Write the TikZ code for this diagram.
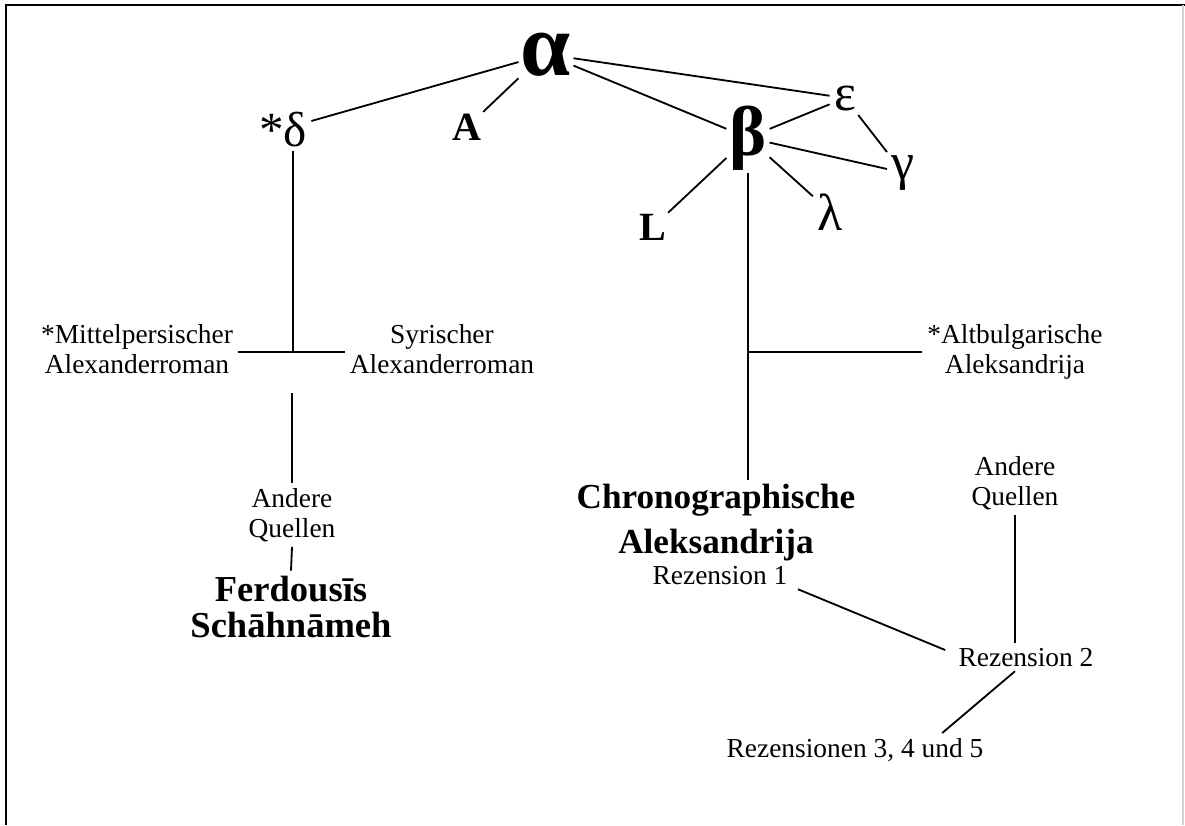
\documentclass[tikz,border=0pt]{standalone}
\usepackage{fontspec}
\setmainfont{Liberation Serif}
\tikzset{
  txt/.style={font=\fontsize{19.5}{21.5}\selectfont, align=center},
  title/.style={font=\fontsize{25}{32}\selectfont\bfseries, align=center},
  grk/.style={font=\fontsize{37}{40}\selectfont, inner sep=3pt},
  sigle/.style={font=\fontsize{28.5}{30}\selectfont\bfseries, inner sep=1pt},
  link/.style={line width=1.3pt},
}
\begin{document}
\begin{tikzpicture}[x=0.025cm,y=-0.025cm]
	\useasboundingbox (0,0) rectangle (1185,825);
	% frame
	\draw[line width=2pt] (6,825) -- (6,5) -- (1185,5);
	\draw[gray!35, line width=0.8pt] (1183,5) -- (1183,825);
	% stemma top
	\node[font=\fontsize{64}{66}\selectfont\bfseries, inner sep=1.5pt, anchor=base] (alpha) at (546,75) {α};
	\node[grk, font=\fontsize{35}{38}\selectfont, anchor=base] (delta) at (283,146) {*δ};
	\node[sigle, anchor=base] (A) at (467,140) {A};
	\node[font=\fontsize{50}{52}\selectfont\bfseries, inner sep=2pt, anchor=base] (beta) at (748,155) {β};
	\node[grk, anchor=base] (eps) at (845,110) {ε};
	\node[grk, anchor=base] (gam) at (903,179) {γ};
	\node[grk, anchor=base] (lam) at (830,230) {λ};
	\node[sigle, anchor=base] (L) at (653,240) {L};
	%
	\draw[link] (delta) -- (alpha);
	\draw[link] (alpha.south west) -- (A.north east);
	\draw[link] (alpha) -- (beta);
	\draw[link] (alpha) -- (eps);
	\draw[link] (beta) -- (eps);
	\draw[link] (eps) -- (gam);
	\draw[link] (beta) -- (gam);
	\draw[link] (beta) -- (lam);
	\draw[link] (beta) -- (L);
	% left branch
	\node[txt] (mp) at (137,349) {*Mittelpersischer\\Alexanderroman};
	\node[txt] (sy) at (442,349) {Syrischer\\Alexanderroman};
	\coordinate (jl) at (293,352);
	\draw[link] (delta.south -| jl) -- (jl);
	\draw[link] (mp.east |- jl) -- (sy.west |- jl);
	\node[txt] (aq1) at (292,515) {Andere\\Quellen};
	\node[title, font=\fontsize{26}{25}\selectfont\bfseries, inner sep=4pt] (ferd) at (291,607) {Ferdousīs\\Schāhnāmeh};
	\coordinate (jb) at (292,393);
	\draw[link] (jb) -- (aq1.north);
	\draw[link] (aq1.south) -- (ferd.north);
	% right branch
	\node[txt] (ab) at (1015,352) {*Altbulgarische\\Aleksandrija};
	\node[title] (chrono) at (716,523) {Chronographische\\Aleksandrija};
	\draw[link] (beta.south) -- (beta.south |- chrono.north);
	\coordinate (jr) at (beta.south |- ab.west);
	\draw[link] (jr) -- (ab.west);
	\node[txt, anchor=base] (rez1) at (720,584) {Rezension 1};
	\node[txt] (aq2) at (1015,483) {Andere\\Quellen};
	\node[txt, anchor=base] (rez2) at (1026,666) {Rezension 2};
	\node[txt, anchor=base] (rez345) at (855,757) {Rezensionen 3, 4 und 5};
	\draw[link] ([xshift=4pt]rez1.south east) -- ([shift={(-6pt,5pt)}]rez2.west);
	\draw[link] (aq2.south) -- (aq2.south |- rez2.north);
	\draw[link] (aq2.south |- rez2.south) -- ([xshift=62pt]rez345.north);
\end{tikzpicture}
\end{document}
